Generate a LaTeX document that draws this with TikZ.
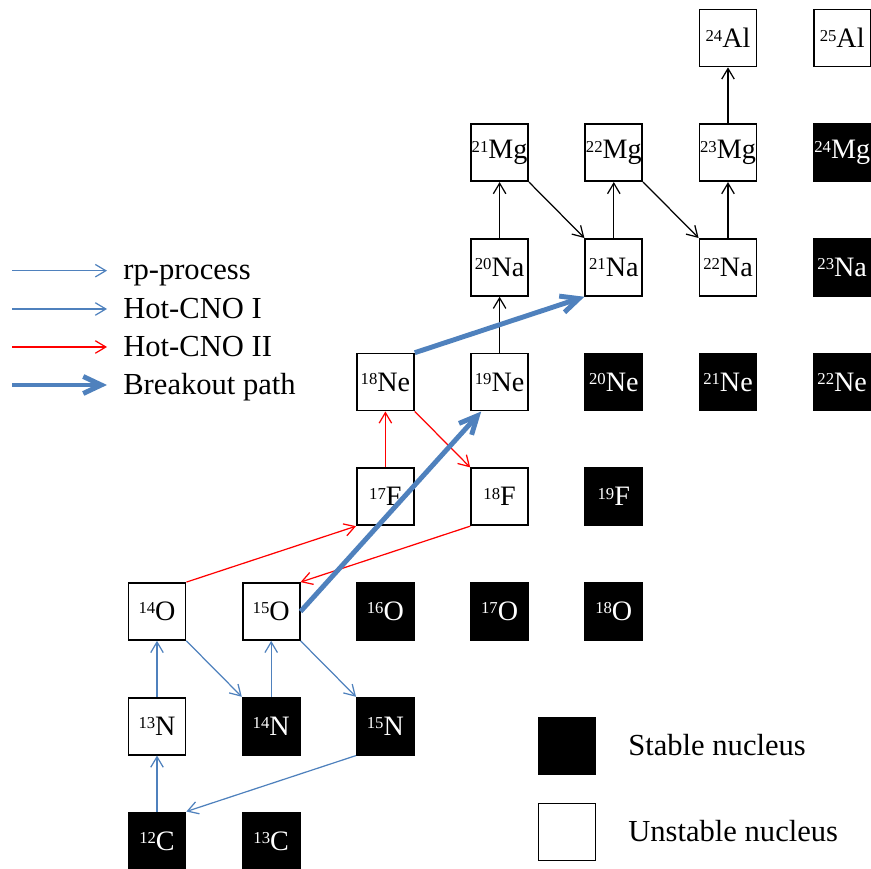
\documentclass[tikz,border=0pt]{standalone}
\usepackage{fontspec}
\setmainfont{Liberation Serif}
\usepackage{xcolor}
\usetikzlibrary{arrows.meta}
\definecolor{cnoblue}{RGB}{79,129,189}
\newcommand{\isot}[2]{{\fontsize{9.5}{10}\selectfont\raisebox{3.8pt}{#1}}#2}
\tikzset{
  nuc/.style={draw=black, line width=1pt, minimum size=1.14cm, inner sep=0pt, font=\fontsize{16}{16}\selectfont},
  stable/.style={nuc, fill=black, text=white},
  unstable/.style={nuc, fill=white},
  bluearrow/.style={draw=cnoblue, line width=0.7pt, -{Straight Barb[length=2.1mm,width=2.5mm]}},
  redarrow/.style={draw=red, line width=0.7pt, -{Straight Barb[length=2.1mm,width=2.5mm]}},
  blackarrow/.style={draw=black, line width=0.7pt, -{Straight Barb[length=2.1mm,width=2.5mm]}},
  breakarrow/.style={draw=cnoblue, line width=2.8pt, -{Straight Barb[length=3.6mm,width=3.4mm]}},
  legtext/.style={font=\fontsize{17.4}{20}\selectfont, inner sep=0pt, anchor=mid west, yshift=-0.1cm}
}

\begin{document}
\begin{tikzpicture}[x=2.284cm, y=2.294cm]
		\useasboundingbox (-1.3748,-0.245) rectangle (6.2522,7.3313);
		% C, N, O
		\node[stable] (c12) at (0,0) {\isot{12}{C}};
		\node[stable] (c13) at (1,0) {\isot{13}{C}};
		\node[unstable] (n13) at (0,1) {\isot{13}{N}};
		\node[stable] (n14) at (1,1) {\isot{14}{N}};
		\node[stable] (n15) at (2,1) {\isot{15}{N}};
		\node[unstable] (o14) at (0,2) {\isot{14}{O}};
		\node[unstable] (o15) at (1,2) {\isot{15}{O}};
		\node[stable] (o16) at (2,2) {\isot{16}{O}};
		\node[stable] (o17) at (3,2) {\isot{17}{O}};
		\node[stable] (o18) at (4,2) {\isot{18}{O}};
		% F, Ne
		\node[unstable] (f17) at (2,3) {\isot{17}{F}};
		\node[unstable] (f18) at (3,3) {\isot{18}{F}};
		\node[stable] (f19) at (4,3) {\isot{19}{F}};
		\node[unstable] (ne18) at (2,4) {\isot{18}{Ne}};
		\node[unstable] (ne19) at (3,4) {\isot{19}{Ne}};
		\node[stable] (ne20) at (4,4) {\isot{20}{Ne}};
		\node[stable] (ne21) at (5,4) {\isot{21}{Ne}};
		\node[stable] (ne22) at (6,4) {\isot{22}{Ne}};
		% Na, Mg, Al
		\node[unstable] (na20) at (3,5) {\isot{20}{Na}};
		\node[unstable] (na21) at (4,5) {\isot{21}{Na}};
		\node[unstable] (na22) at (5,5) {\isot{22}{Na}};
		\node[stable] (na23) at (6,5) {\isot{23}{Na}};
		\node[unstable] (mg21) at (3,6) {\isot{21}{Mg}};
		\node[unstable] (mg22) at (4,6) {\isot{22}{Mg}};
		\node[unstable] (mg23) at (5,6) {\isot{23}{Mg}};
		\node[stable] (mg24) at (6,6) {\isot{24}{Mg}};
		\node[unstable] (al24) at (5,7) {\isot{24}{Al}};
		\node[unstable] (al25) at (6,7) {\isot{25}{Al}};
		% Hot-CNO I
		\draw[bluearrow] (c12) -- (n13);
		\draw[bluearrow] (n13) -- (o14);
		\draw[bluearrow] (o14.south east) -- (n14.north west);
		\draw[bluearrow] (n14) -- (o15);
		\draw[bluearrow] (o15.south east) -- (n15.north west);
		\draw[bluearrow] (n15.south west) -- (c12.north east);
		% Hot-CNO II
		\draw[redarrow] (o14.north east) -- (f17.south west);
		\draw[redarrow] (f17) -- (ne18);
		\draw[redarrow] (ne18.south east) -- (f18.north west);
		\draw[redarrow] (f18.south west) -- (o15.north east);
		% rp-process
		\draw[blackarrow] (ne19) -- (na20);
		\draw[blackarrow] (na20) -- (mg21);
		\draw[blackarrow] (mg21.south east) -- (na21.north west);
		\draw[blackarrow] (na21) -- (mg22);
		\draw[blackarrow] (mg22.south east) -- (na22.north west);
		\draw[blackarrow] (na22) -- (mg23);
		\draw[blackarrow] (mg23) -- (al24);
		% breakout
		\draw[breakarrow] (o15.east) -- (ne19.-122);
		\draw[breakarrow] (ne18.north east) -- (na21.south west);
		% legend, arrows
		\coordinate (krp) at (-1.2697,4.9712);
		\coordinate (krpe) at (-0.4378,4.9712);
		\coordinate (kone) at (-1.2697,4.6373);
		\coordinate (konee) at (-0.4378,4.6373);
		\coordinate (ktwo) at (-1.2697,4.3060);
		\coordinate (ktwoe) at (-0.4378,4.3060);
		\coordinate (kbrk) at (-1.2697,3.9747);
		\coordinate (kbrke) at (-0.4378,3.9747);
		\draw[bluearrow] (krp) -- (krpe);
		\draw[bluearrow] (kone) -- (konee);
		\draw[redarrow] (ktwo) -- (ktwoe);
		\draw[breakarrow] (kbrk) -- (kbrke);
		\node[legtext] (trp) at (-0.2977,4.9712) {rp-process};
		\node[legtext] (tone) at (-0.2977,4.6373) {Hot-CNO I};
		\node[legtext] (ttwo) at (-0.2977,4.3060) {Hot-CNO II};
		\node[legtext] (tbrk) at (-0.2977,3.9747) {Breakout path};
		% legend, boxes
		\node[stable] (kst) at (3.5902,0.8274) {};
		\node[unstable] (kun) at (3.5902,0.0776) {};
		\node[legtext] (tst) at (4.1244,0.8274) {Stable nucleus};
		\node[legtext] (tun) at (4.1244,0.0776) {Unstable nucleus};
\end{tikzpicture}
\end{document}
